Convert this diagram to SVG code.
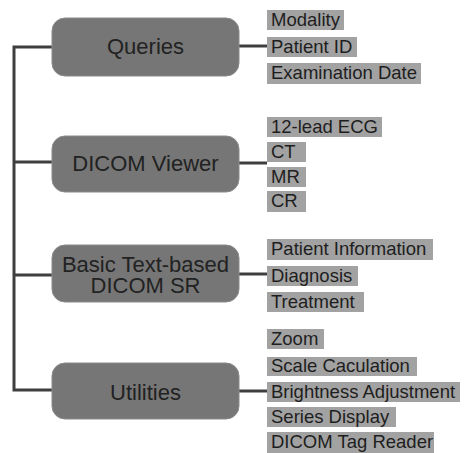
<svg xmlns="http://www.w3.org/2000/svg" width="464" height="453" viewBox="0 0 464 453">
<style>
.node rect{fill:#767676;stroke:#8a8a8a;stroke-width:1}
.node text{font-family:"Liberation Sans",Arial,sans-serif;font-size:22px;fill:#222;text-anchor:middle}
.item rect{fill:#a2a2a2}
.item text{font-family:"Liberation Sans",Arial,sans-serif;font-size:18.5px;fill:#1e1e1e}
.conn{stroke:#3e3e3e;stroke-width:3;fill:none}
</style>
<rect width="464" height="453" fill="#fff"/>
<g id="connectors" class="conn">
<path d="M52,47 H14 V390 H52"/>
<path d="M14,162 H52"/>
<path d="M14,275 H52"/>
<path d="M239,46 H267"/>
<path d="M239,163 H267"/>
<path d="M239,274 H267"/>
<path d="M239,391 H267"/>
</g>
<g id="queries" class="node"><rect x="52" y="18" width="187" height="58" rx="13"/><text x="145.5" y="54">Queries</text></g>
<g id="dicom-viewer" class="node"><rect x="52" y="136" width="187" height="56" rx="13"/><text x="145.5" y="171">DICOM Viewer</text></g>
<g id="basic-sr" class="node"><rect x="52" y="245" width="187" height="57" rx="13"/><text x="145.5" y="272">Basic Text-based</text><text x="145.5" y="293">DICOM SR</text></g>
<g id="utilities" class="node"><rect x="52" y="363" width="187" height="56" rx="13"/><text x="145.5" y="400">Utilities</text></g>
<g id="modality" class="item"><rect x="267" y="10" width="77" height="20"/><text x="271" y="26">Modality</text></g>
<g id="patient-id" class="item"><rect x="267" y="37" width="90" height="20"/><text x="271" y="53">Patient ID</text></g>
<g id="exam-date" class="item"><rect x="267" y="63" width="154" height="21"/><text x="271" y="79">Examination Date</text></g>
<g id="ecg" class="item"><rect x="267" y="117" width="115" height="20"/><text x="271" y="133">12-lead ECG</text></g>
<g id="ct" class="item"><rect x="267" y="142" width="39" height="20"/><text x="271" y="158">CT</text></g>
<g id="mr" class="item"><rect x="267" y="167" width="39" height="20"/><text x="271" y="183">MR</text></g>
<g id="cr" class="item"><rect x="267" y="191" width="39" height="21"/><text x="271" y="207">CR</text></g>
<g id="patient-info" class="item"><rect x="267" y="239" width="166" height="21"/><text x="271" y="255">Patient Information</text></g>
<g id="diagnosis" class="item"><rect x="267" y="266" width="91" height="20"/><text x="271" y="282">Diagnosis</text></g>
<g id="treatment" class="item"><rect x="267" y="292" width="97" height="20"/><text x="271" y="308">Treatment</text></g>
<g id="zoom" class="item"><rect x="267" y="329" width="57" height="20"/><text x="271" y="345">Zoom</text></g>
<g id="scale" class="item"><rect x="267" y="357" width="150" height="19"/><text x="271" y="372">Scale Caculation</text></g>
<g id="brightness" class="item"><rect x="267" y="382" width="193" height="20"/><text x="271" y="398">Brightness Adjustment</text></g>
<g id="series" class="item"><rect x="267" y="407" width="129" height="20"/><text x="271" y="423">Series Display</text></g>
<g id="tag-reader" class="item"><rect x="267" y="432" width="167" height="21"/><text x="271" y="448">DICOM Tag Reader</text></g>
</svg>
